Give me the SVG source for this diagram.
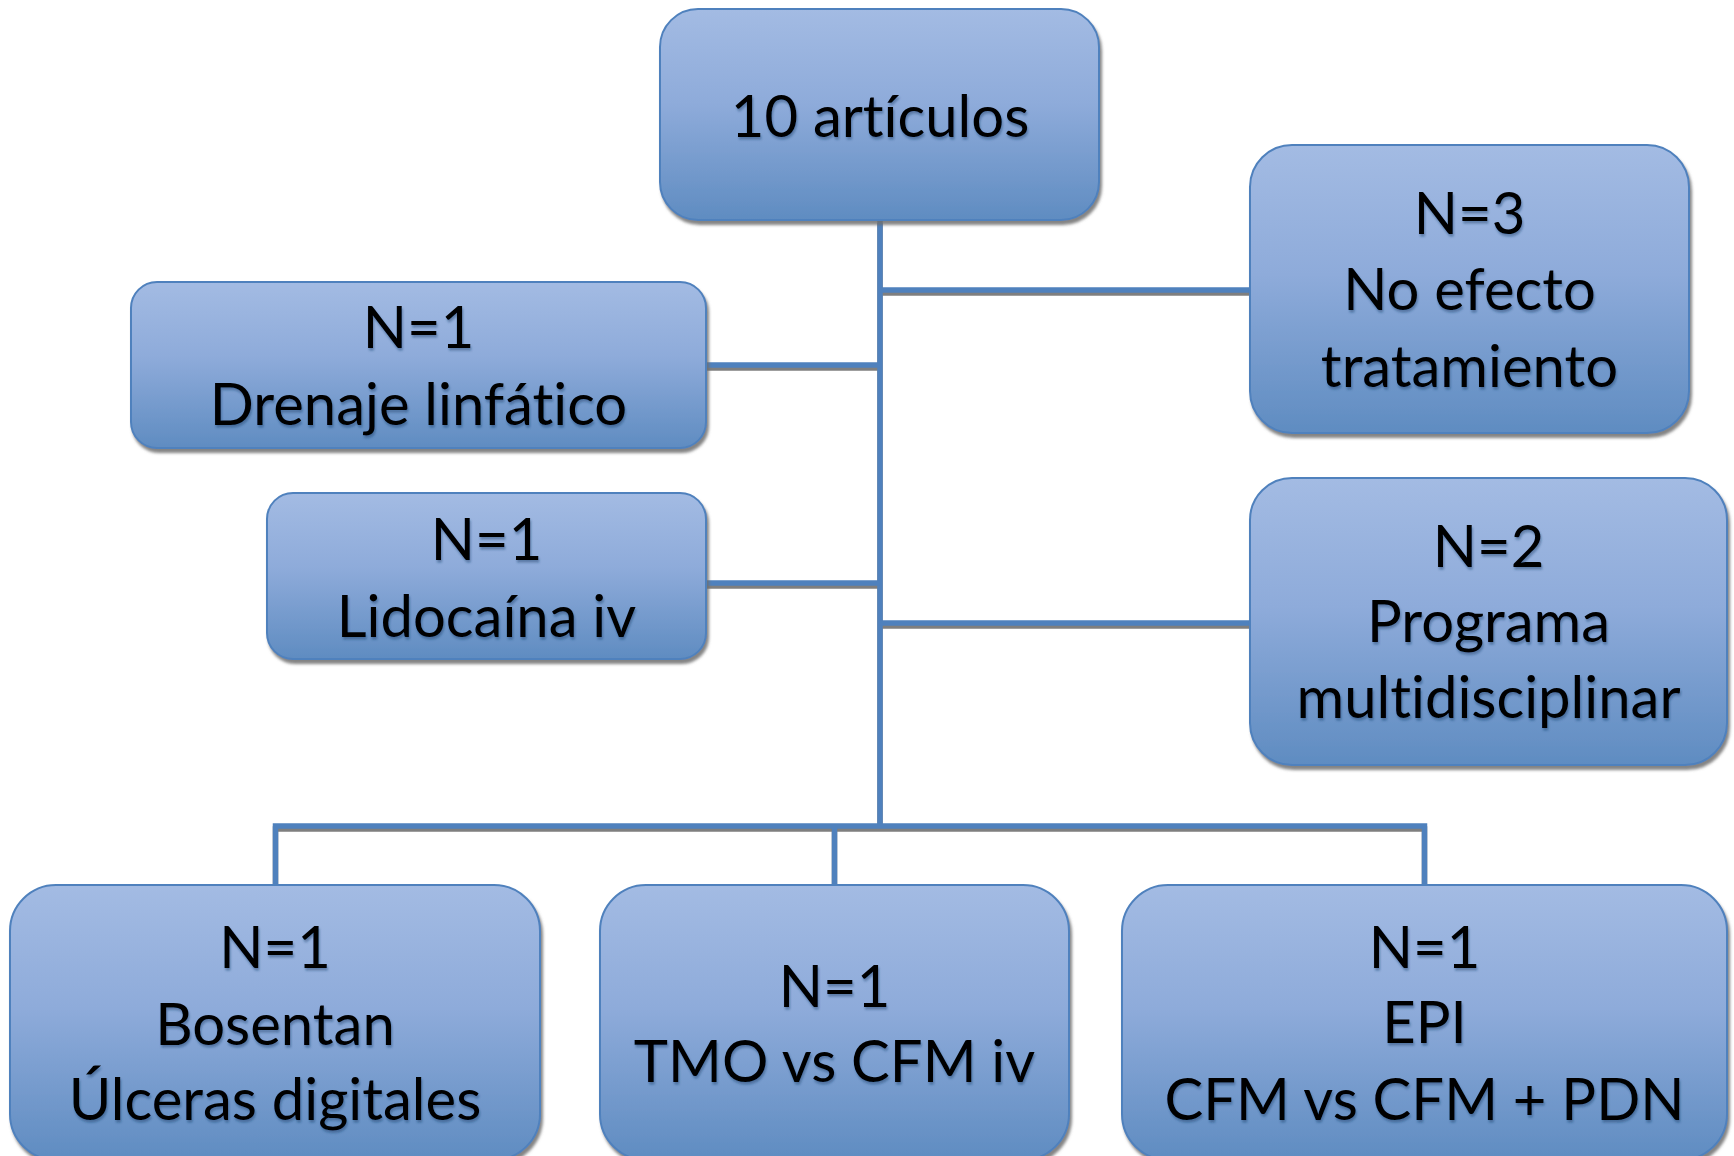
<svg xmlns="http://www.w3.org/2000/svg" width="1734" height="1156" viewBox="0 0 1734 1156">
  <defs>
    <linearGradient id="boxFill" x1="0" y1="0" x2="0" y2="1">
      <stop offset="0" stop-color="#A3BBE3"/>
      <stop offset="0.45" stop-color="#8EABDA"/>
      <stop offset="1" stop-color="#5F8CC1"/>
    </linearGradient>
    <filter id="boxShadow" x="-5%" y="-5%" width="112%" height="115%">
      <feGaussianBlur in="SourceAlpha" stdDeviation="1.6"/>
      <feOffset dx="2" dy="4" result="blur"/>
      <feFlood flood-color="#6E6E6E" flood-opacity="0.85"/>
      <feComposite in2="blur" operator="in"/>
      <feMerge>
        <feMergeNode/>
        <feMergeNode in="SourceGraphic"/>
      </feMerge>
    </filter>
    <filter id="textShadow" x="-5%" y="-20%" width="110%" height="150%">
      <feDropShadow dx="1" dy="2.5" stdDeviation="1" flood-color="#1F3C66" flood-opacity="0.45"/>
    </filter>
  </defs>
  <style>
    .box { fill: url(#boxFill); stroke: #4F81BD; stroke-width: 2; filter: url(#boxShadow); }
    .lbl { font-family: Lato, "Open Sans", "Liberation Sans", sans-serif; font-size: 58px; font-variant-ligatures: none; font-feature-settings: "liga" 0, "clig" 0, "dlig" 0, "calt" 0; fill: #000; text-anchor: middle; filter: url(#textShadow); }
    .wire { fill: none; stroke: #4F81BD; stroke-width: 5.5; stroke-linecap: butt; stroke-linejoin: miter; }
    .wire-sh { fill: none; stroke: #7F7F7F; stroke-width: 5.5; stroke-linejoin: miter; }
  </style>
  <rect width="1734" height="1156" fill="#FFFFFF"/>

  <!-- connectors: gray under-shadow first, blue line on top -->
  <g id="connectors">
    <g class="wire-sh" transform="translate(0,3)">
      <path d="M880 220 V826"/>
      <path d="M880 290 H1250"/>
      <path d="M706 365 H880"/>
      <path d="M706 583 H880"/>
      <path d="M880 623 H1250"/>
      <path d="M275.5 882 V826 H1424.5 V882"/>
      <path d="M834.5 826 V882"/>
    </g>
    <g class="wire">
      <path d="M880 220 V826"/>
      <path d="M880 290 H1250"/>
      <path d="M706 365 H880"/>
      <path d="M706 583 H880"/>
      <path d="M880 623 H1250"/>
      <path d="M275.5 885 V826 H1424.5 V885"/>
      <path d="M834.5 826 V885"/>
    </g>
  </g>

  <g id="n-articulos">
    <rect class="box" x="660" y="9" width="439" height="211" rx="38"/>
    <text class="lbl" x="880" y="137">10 artículos</text>
  </g>

  <g id="n-no-efecto">
    <rect class="box" x="1250" y="145" width="439" height="288" rx="42"/>
    <text class="lbl" x="1469.5" y="234">N=3</text>
    <text class="lbl" x="1469.5" y="310">No efecto</text>
    <text class="lbl" x="1469.5" y="387">tratamiento</text>
  </g>

  <g id="n-drenaje">
    <rect class="box" x="131" y="282" width="575" height="166" rx="26"/>
    <text class="lbl" x="418.5" y="348">N=1</text>
    <text class="lbl" x="418.5" y="425">Drenaje linfático</text>
  </g>

  <g id="n-lidocaina">
    <rect class="box" x="267" y="493" width="439" height="166" rx="26"/>
    <text class="lbl" x="486.5" y="560">N=1</text>
    <text class="lbl" x="486.5" y="637">Lidocaína iv</text>
  </g>

  <g id="n-programa">
    <rect class="box" x="1250" y="478" width="477" height="287" rx="42"/>
    <text class="lbl" x="1488.5" y="567">N=2</text>
    <text class="lbl" x="1488.5" y="642">Programa</text>
    <text class="lbl" x="1488.5" y="718">multidisciplinar</text>
  </g>

  <g id="n-bosentan">
    <rect class="box" x="10" y="885" width="530" height="275" rx="46"/>
    <text class="lbl" x="275" y="968">N=1</text>
    <text class="lbl" x="275" y="1045">Bosentan</text>
    <text class="lbl" x="275" y="1120">Úlceras digitales</text>
  </g>

  <g id="n-tmo">
    <rect class="box" x="600" y="885" width="469" height="275" rx="46"/>
    <text class="lbl" x="834.5" y="1007">N=1</text>
    <text class="lbl" x="834.5" y="1082">TMO vs CFM iv</text>
  </g>

  <g id="n-epi">
    <rect class="box" x="1122" y="885" width="605" height="275" rx="46"/>
    <text class="lbl" x="1424.5" y="968">N=1</text>
    <text class="lbl" x="1424.5" y="1043">EPI</text>
    <text class="lbl" x="1424.5" y="1120">CFM vs CFM + PDN</text>
  </g>
</svg>
